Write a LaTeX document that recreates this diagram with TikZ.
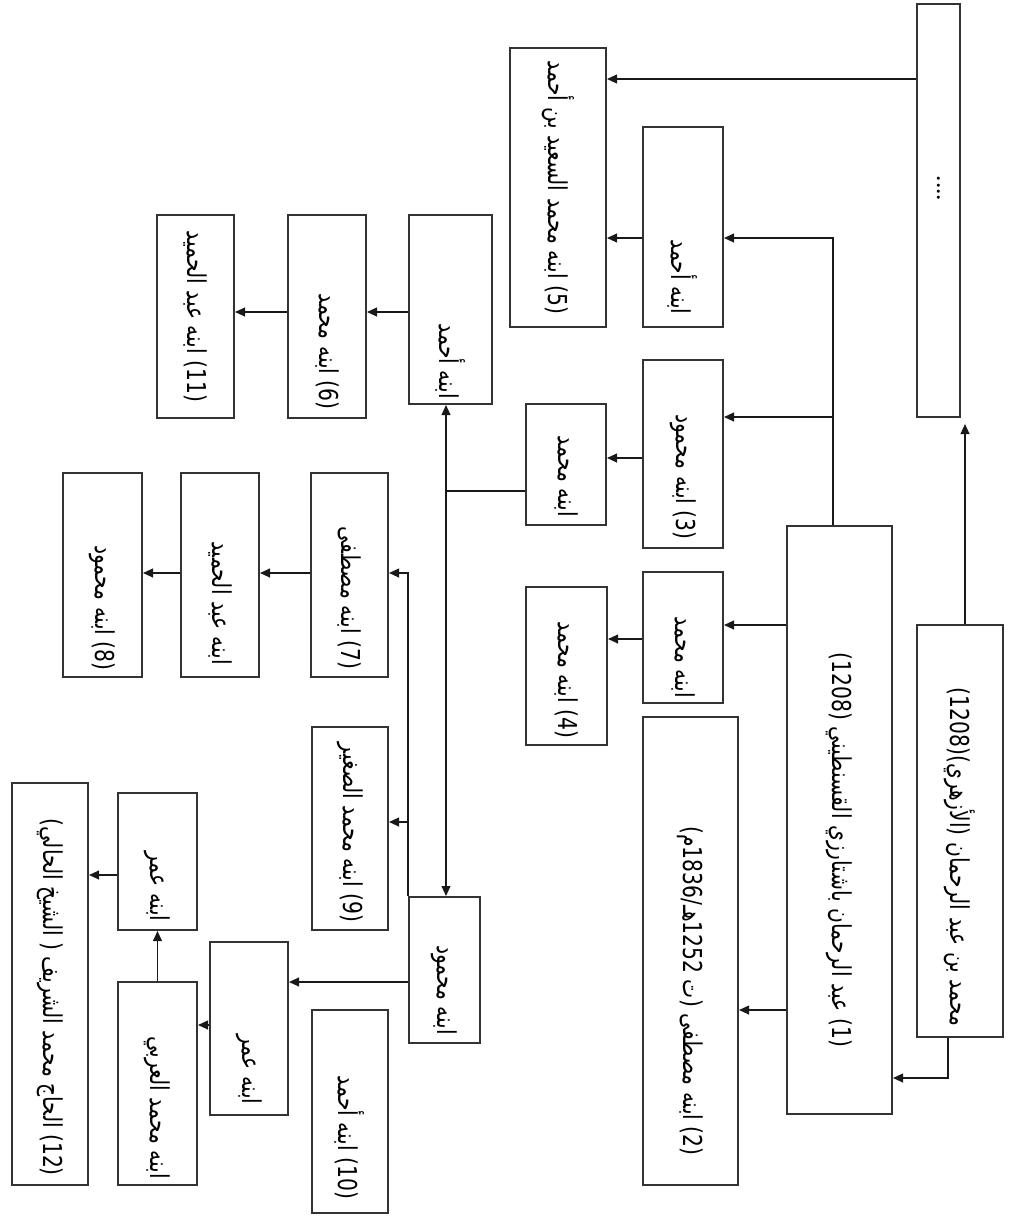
\documentclass[tikz,border=0pt]{standalone}
\usepackage{fontspec}
\usetikzlibrary{arrows.meta}
\newfontfamily\arabicfont[Script=Arabic]{DejaVu Sans}
\TeXXeTstate=1
\newcommand{\lbl}[2][0pt]{\rotatebox{-90}{\hspace*{#1}\scalebox{0.78}[1]{\arabicfont\fontsize{13}{15}\selectfont\beginR #2\endR}}}
\newcommand{\num}[1]{\beginL(#1)\endL}

\begin{document}
\begin{tikzpicture}[x=0.5pt, y=-0.5pt,
    box/.style={draw=black!80, line width=1pt, fill=white, inner sep=0pt, rectangle},
    conn/.style={draw=black!90, line width=0.75pt},
    arr/.style={conn, -{Triangle[length=5pt,width=4.4pt]}}]
    \fill[white] (0,0) rectangle (1008,1216);
    \useasboundingbox (0,0) rectangle (1008,1216);

    \node[box, minimum width=43pt, minimum height=206pt] (root) at (960,831) {\lbl[26pt]{محمد بن عبد الرحمان (الأزهري)\num{1208}}};
    \node[box, minimum width=21.5pt, minimum height=206.5pt] (dots) at (938.5,210.5) {\rotatebox{-90}{\bfseries ....\hspace*{22pt}}};
    \node[box, minimum width=52.5pt, minimum height=294pt] (n1) at (839.5,820) {\lbl[30pt]{\num{1} عبد الرحمان باشتارزي القسنطيني \num{1208}}};
    \node[box, minimum width=48pt, minimum height=139.5pt] (n5) at (558,187.5) {\lbl{\num{5} ابنه محمد السعيد بن أحمد}};
    \node[box, minimum width=40pt, minimum height=100pt] (a1) at (683,227) {\lbl[50pt]{ابنه أحمد}};
    \node[box, minimum width=40pt, minimum height=94pt] (n3) at (683,454) {\lbl[23pt]{\num{3} ابنه محمود}};
    \node[box, minimum width=40pt, minimum height=60.5pt] (m3) at (566,464.5) {\lbl[12pt]{ابنه محمد}};
    \node[box, minimum width=40pt, minimum height=65.5pt] (m1) at (683,637.5) {\lbl[20pt]{ابنه محمد}};
    \node[box, minimum width=40.5pt, minimum height=79pt] (n4) at (566.5,666) {\lbl[14pt]{\num{4} ابنه محمد}};
    \node[box, minimum width=47.5pt, minimum height=234pt] (n2) at (690.5,951) {\lbl[40pt]{\num{2} ابنه مصطفى (ت 1252هـ/1836م)}};
    \node[box, minimum width=41.5pt, minimum height=94.5pt] (a2) at (450.5,309.5) {\lbl[52pt]{ابنه أحمد}};
    \node[box, minimum width=39pt, minimum height=101.5pt] (n6) at (327,316.5) {\lbl[35pt]{\num{6} ابنه محمد}};
    \node[box, minimum width=38.5pt, minimum height=101.5pt] (n11) at (195.5,316.5) {\lbl{\num{11} ابنه عبد الحميد}};
    \node[box, minimum width=38.5pt, minimum height=102pt] (n7) at (349.5,575) {\lbl[23pt]{\num{7} ابنه مصطفى}};
    \node[box, minimum width=39pt, minimum height=102pt] (ah) at (220,575) {\lbl[28pt]{ابنه عبد الحميد}};
    \node[box, minimum width=39.5pt, minimum height=102pt] (n8) at (102.5,575) {\lbl[33pt]{\num{8} ابنه محمود}};
    \node[box, minimum width=38pt, minimum height=101.5pt] (n9) at (350,828.5) {\lbl[4pt]{\num{9} ابنه محمد الصغير}};
    \node[box, minimum width=35.5pt, minimum height=73pt] (m9) at (444.5,970) {\lbl[20pt]{ابنه محمود}};
    \node[box, minimum width=38pt, minimum height=101.5pt] (n10) at (350,1111.5) {\lbl[26pt]{\num{10} ابنه أحمد}};
    \node[box, minimum width=39pt, minimum height=86.5pt] (m10) at (249,1028.5) {\lbl[41pt]{ابنه عمر}};
    \node[box, minimum width=39.5pt, minimum height=101.5pt] (ma) at (157.5,1083.5) {\lbl[24pt]{ابنه محمد العربي}};
    \node[box, minimum width=39.5pt, minimum height=68.5pt] (m12) at (157.5,861.5) {\lbl[25pt]{ابنه عمر}};
    \node[box, minimum width=38pt, minimum height=201pt] (n12) at (50,984) {\lbl[13pt]{\num{12} الحاج محمد الشريف ( الشيخ الحالي)}};

    \coordinate (c1) at (965,0);
    \coordinate (c2) at (0,79);
    \coordinate (k1) at (833,238);
    \coordinate (k2) at (833,417);
    \coordinate (c3) at (0,458);
    \coordinate (r1) at (0,625);
    \coordinate (c4) at (0,639);
    \coordinate (c5) at (0,1010);
    \coordinate (c6) at (948,1078);
    \coordinate (j1) at (446,491);
    \coordinate (c7) at (0,312);
    \coordinate (c8) at (0,573);
    \coordinate (c9) at (0,822);
    \coordinate (c10) at (0,982);
    \coordinate (c11) at (0,1025);
    \coordinate (c13) at (0,875);

    \draw[arr, shorten >=3pt] (root.north -| c1) -- (dots.south -| c1);
    \draw[arr] (dots.west |- c2) -- (n5.east |- c2);
    \draw[arr] (n1.north -| k1) |- (a1.east |- k1);
    \draw[arr] (k2) -- (n3.east |- k2);
    \draw[arr] (a1.west |- k1) -- (n5.east |- k1);
    \draw[arr] (n3.west |- c3) -- (m3.east |- c3);
    \draw[arr] (n1.west |- r1) -- (m1.east |- r1);
    \draw[arr] (m1.west |- c4) -- (n4.east |- c4);
    \draw[arr] (n1.west |- c5) -- (n2.east |- c5);
    \draw[arr] (root.south -| c6) |- (n1.east |- c6);
    \draw[conn] (m3.west |- j1) -- (j1);
    \draw[arr] (j1) -- (a2.south -| j1);
    \draw[arr] (j1) -- (m9.north -| j1);
    \draw[arr] (a2.west |- c7) -- (n6.east |- c7);
    \draw[arr] (n6.west |- c7) -- (n11.east |- c7);
    \draw[arr] (m9.north west) |- (n7.east |- c8);
    \draw[arr] (m9.north west |- c9) -- (n9.east |- c9);
    \draw[arr] (n7.west |- c8) -- (ah.east |- c8);
    \draw[arr] (ah.west |- c8) -- (n8.east |- c8);
    \draw[arr] (m9.west |- c10) -- (m10.east |- c10);
    \draw[arr] (m10.west |- c11) -- (ma.east |- c11);
    \draw[arr] (ma.north) -- (m12.south);
    \draw[arr] (m12.west |- c13) -- (n12.east |- c13);
\end{tikzpicture}
\end{document}
